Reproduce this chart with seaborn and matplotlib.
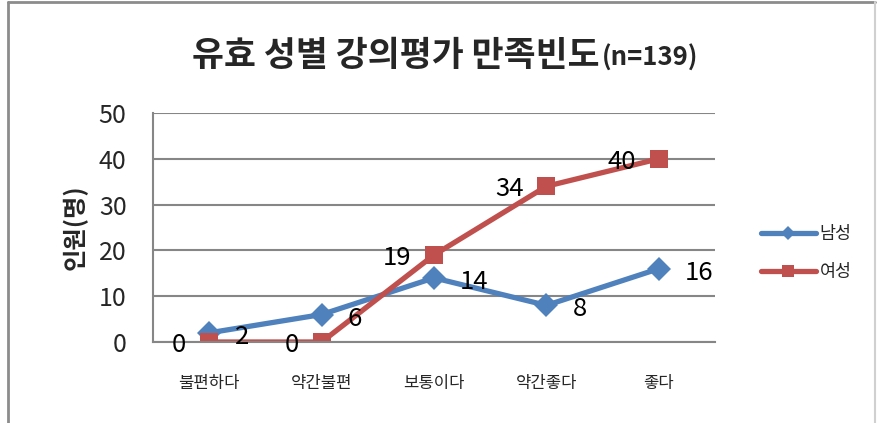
import pandas as pd
import matplotlib
matplotlib.use("Agg")
import matplotlib.pyplot as plt
from matplotlib.lines import Line2D
import seaborn as sns

# data
categories = ["불편하다", "약간불편", "보통이다", "약간좋다", "좋다"]
male = [2, 6, 14, 8, 16]
female = [0, 0, 19, 34, 40]
series_names = ["남성", "여성"]
y_ticks = [0, 10, 20, 30, 40, 50]

blue = "#4F81BD"
red = "#C0504D"
grid_gray = "#868686"

sns.set_theme(style="white")
plt.rcParams['font.family'] = ['Noto Sans CJK KR', 'DejaVu Sans']

df = pd.DataFrame({
    "pos": list(range(len(categories))) * 2,
    "value": male + female,
    "series": [series_names[0]] * len(male) + [series_names[1]] * len(female),
})

fig = plt.figure(figsize=(8.77, 4.23), dpi=100)
ax = fig.add_axes([153 / 877, 1 - 342 / 423, (715 - 153) / 877, (342 - 113) / 423])

sns.lineplot(data=df[df.series == "남성"], x="pos", y="value", color=blue,
             linewidth=3.8, marker="D", markersize=12, markeredgewidth=0,
             sort=False, ax=ax, legend=False)
sns.lineplot(data=df[df.series == "여성"], x="pos", y="value", color=red,
             linewidth=3.8, marker="s", markersize=13, markeredgewidth=0,
             sort=False, ax=ax, legend=False)

# data labels: male to the right, female to the left
for i, v in enumerate(male):
    ax.annotate(str(v), (i, v), xytext=(26, -4), textcoords="offset pixels",
                ha="left", va="center", fontsize=18.5, color="black")
for i, v in enumerate(female):
    ax.annotate(str(v), (i, v), xytext=(-23, -3), textcoords="offset pixels",
                ha="right", va="center", fontsize=18.5, color="black")

ax.set_xlim(-0.5, len(categories) - 0.5)
ax.set_ylim(0, 50)
ax.set_yticks(y_ticks)
ax.set_xticks(range(len(categories)))
ax.set_xticklabels(categories, fontsize=12)
ax.tick_params(axis="y", labelsize=18, length=0, pad=19)
ax.tick_params(axis="x", length=0, pad=24)
ax.yaxis.grid(True, color=grid_gray, linewidth=1.5)
ax.set_axisbelow(True)
ax.set_xlabel("")
ax.set_ylabel("인원(명)", fontsize=17.5, fontweight="bold", labelpad=8)
for s in ["top", "right"]:
    ax.spines[s].set_visible(False)
for s in ["left", "bottom"]:
    ax.spines[s].set_color(grid_gray)
    ax.spines[s].set_linewidth(1.5)

# title in two sizes
fig.text(600 / 877, 1 - 66 / 423, "유효 성별 강의평가 만족빈도", fontsize=25,
         fontweight="bold", ha="right", va="baseline")
fig.text(602 / 877, 1 - 66 / 423, "(n=139)", fontsize=18.5,
         fontweight="bold", ha="left", va="baseline")

handles = [
    Line2D([], [], color=blue, linewidth=3.8, marker="D", markersize=7, markeredgewidth=0),
    Line2D([], [], color=red, linewidth=3.8, marker="s", markersize=9, markeredgewidth=0),
]
fig.legend(handles, series_names, loc="center left",
           bbox_to_anchor=(745 / 877, 1 - 253 / 423), frameon=False,
           fontsize=12.5, handlelength=3.2, handletextpad=0.2, labelspacing=1.2)

# outer chart border
border = dict(color="#8c8c8c", linewidth=2, transform=fig.transFigure)
fig.add_artist(Line2D([8 / 877, 8 / 877], [0, 1 - 2 / 423], **border))
fig.add_artist(Line2D([8 / 877, 875 / 877], [1 - 2 / 423, 1 - 2 / 423], **border))
fig.add_artist(Line2D([875 / 877, 875 / 877], [0, 1 - 2 / 423], color="#d0d0d0",
                      linewidth=1.5, transform=fig.transFigure))

fig.savefig("out.png", dpi=100)
